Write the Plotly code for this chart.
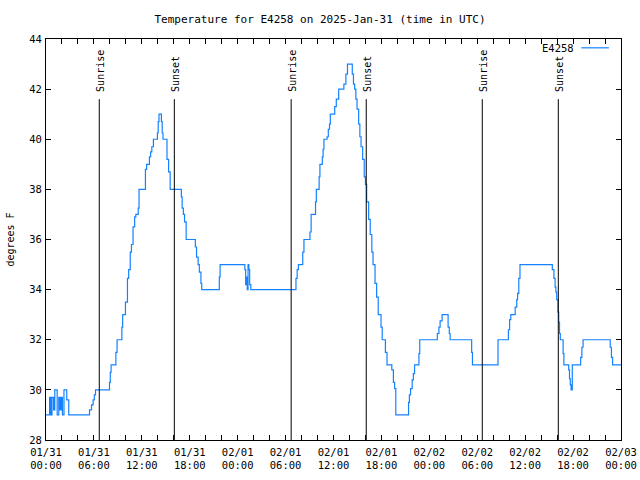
import pandas as pd
import plotly.graph_objects as go

# ---- data (hours after 2025-01-31 00:00 UTC, value becomes temp at that time) ----
temp_hours = [
    0.0, 0.45, 0.6, 0.75, 0.95, 1.1, 1.4, 1.6, 1.75, 1.9, 2.05, 2.25, 2.6, 2.85,
    5.45, 5.7, 5.9, 6.05, 6.2, 7.95, 8.05, 8.15, 8.75, 8.9, 9.5, 9.6, 9.95, 10.2,
    10.35, 10.55, 10.7, 10.9, 11.1, 11.25, 11.55, 11.65, 12.45, 12.6, 12.95, 13.1,
    13.25, 13.45, 13.95, 14.05, 14.15, 14.45, 14.55, 14.65, 15.15, 15.35, 15.55,
    16.95, 17.05, 17.2, 17.35, 17.55, 18.7, 18.85, 19.05, 19.2, 19.4, 19.5, 21.7,
    21.8, 24.9, 25.0, 25.1, 25.2, 25.3, 25.4, 25.5, 25.65, 31.3, 31.45, 31.6,
    32.15, 32.3, 33.05, 33.2, 33.75, 33.85, 34.2, 34.3, 34.6, 34.7, 34.8, 35.2,
    35.35, 35.5, 35.6, 36.15, 36.35, 36.65, 37.3, 37.55, 37.75, 38.35, 38.5,
    38.65, 38.8, 38.95, 39.15, 39.3, 39.45, 39.65, 39.85, 40.0, 40.15, 40.4, 40.6,
    40.8, 40.95, 41.2, 41.4, 41.6, 41.95, 42.1, 42.5, 42.7, 43.3, 43.5, 43.65,
    43.8, 45.4, 45.5, 45.65, 45.85, 46.0, 46.15, 46.7, 46.8, 49.0, 49.2, 49.35,
    49.6, 50.35, 50.5, 50.6, 53.3, 53.4, 56.6, 57.9, 58.05, 58.2, 58.75, 58.95,
    59.05, 59.2, 59.35, 63.4, 63.6, 63.75, 63.85, 63.95, 64.1, 64.2, 64.3, 64.4,
    64.75, 64.85, 65.45, 65.55, 65.65, 65.75, 65.9, 66.95, 67.1, 67.25, 70.65,
    70.8, 70.95, 72.0,
]
temp_values = [
    29, 29.7, 29, 29.7, 29.2, 30, 29, 29.7, 29.2, 29.7, 29, 30, 29.6, 29,
    29.2, 29.4, 29.6, 29.8, 30, 30.3, 30.7, 31, 31.5, 32, 32.5, 33, 33.5, 34.45,
    34.8, 35.5, 35.8, 36.5, 36.9, 37.0, 37.25, 38.0, 38.8, 39.0, 39.3, 39.5,
    39.7, 40.0, 40.25, 40.7, 41.0, 40.7, 40.25, 40.0, 39.2, 38.7, 38.0,
    37.7, 37.25, 37.0, 36.7, 36.0, 35.7, 35.3, 35.0, 34.7, 34.25, 34.0, 34.5,
    35.0, 34.8, 34.2, 34.5, 34.0, 35.0, 34.8, 34.2, 34.0, 34.45, 34.8, 35.0,
    35.5, 36.0, 36.3, 37.0, 37.5, 38.0, 38.5, 39.0, 39.3, 39.6, 40.0, 40.1,
    40.4, 40.6, 41.0, 41.3, 41.6, 42.0, 42.2, 42.6, 43.0, 42.6, 42.2,
    42.0, 41.6, 41.2, 40.6, 40.1, 39.7, 39.2, 38.5, 38.2, 37.5, 36.8, 36.2,
    35.5, 35.0, 34.25, 33.7, 33.0, 32.5, 32.0, 31.5, 31.0, 30.8, 30.3, 30.05,
    29.0, 29.5, 29.8, 30.05, 30.4, 30.65, 31.0, 31.45, 32.0, 32.25, 32.5, 32.75,
    33.0, 32.5, 32.25, 32.0, 31.5, 31.0, 32.0, 32.4, 32.8, 33.0, 33.3, 33.6,
    33.85, 34.45, 35.0, 34.8, 34.45, 34.1, 33.9, 33.6, 33.1, 32.7, 32.25, 32.0,
    31.45, 31.0, 30.8, 30.45, 30.2, 30.0, 31.0, 31.3, 31.7, 32.0, 31.7,
    31.3, 31.0, 31.0,
]

sunrise_hours = [6.67, 30.7, 54.63]
sunset_hours = [16.07, 40.1, 64.15]

tick_hours = list(range(0, 73, 2))
label_every = 6
tick_dates = ["01/31", "01/31", "01/31", "01/31", "02/01", "02/01", "02/01",
              "02/01", "02/02", "02/02", "02/02", "02/02", "02/03"]
tick_times = ["00:00", "06:00", "12:00", "18:00"] * 3 + ["00:00"]

series_name = "E4258"
title_text = "Temperature for E4258 on 2025-Jan-31 (time in UTC)"
y_title = "degrees F"

# ---- build ----
base = pd.Timestamp("2025-01-31 00:00:00")
to_dt = lambda hs: [base + pd.Timedelta(hours=h) for h in hs]

FONT = "DejaVu Sans Mono"
BLUE = "rgb(20,130,255)"
TXT = 10.5

fig = go.Figure()
fig.add_trace(go.Scatter(
    x=to_dt(temp_hours), y=temp_values, mode="lines", line_shape="hv",
    line=dict(color=BLUE, width=1.2), name=series_name, showlegend=False,
))

ticktext = []
j = 0
for h in tick_hours:
    if h % label_every == 0:
        ticktext.append(f"{tick_dates[j]}<br>{tick_times[j]}")
        j += 1
    else:
        ticktext.append("")

shapes = []
annotations = []
sun_top = 41.6
for hs, lab in ((sunrise_hours, "Sunrise"), (sunset_hours, "Sunset")):
    for dt in to_dt(hs):
        shapes.append(dict(type="line", xref="x", yref="y", x0=dt, x1=dt,
                           y0=28, y1=sun_top, line=dict(color="black", width=1)))
        annotations.append(dict(x=dt, y=sun_top + 0.22, xref="x", yref="y",
                                text=lab, textangle=-90, showarrow=False,
                                xanchor="center", yanchor="bottom", xshift=1,
                                font=dict(family=FONT, size=10, color="black")))

# legend key (gnuplot style: text then line sample)
annotations.append(dict(x=0.922, y=0.978, xref="paper", yref="paper",
                        text=series_name, showarrow=False, xanchor="right",
                        yanchor="middle",
                        font=dict(family=FONT, size=TXT, color="black")))
shapes.append(dict(type="line", xref="paper", yref="paper", x0=0.931, x1=0.979,
                   y0=0.978, y1=0.978, line=dict(color=BLUE, width=1.2)))

axis_common = dict(showline=True, linecolor="black", linewidth=1, mirror="allticks",
                   ticks="inside", ticklen=5, tickcolor="black", showgrid=False,
                   zeroline=False, automargin=False,
                   tickfont=dict(family=FONT, size=TXT, color="black"))

fig.update_layout(
    width=640, height=480,
    margin=dict(l=46, r=19, t=39, b=40),
    paper_bgcolor="white", plot_bgcolor="white",
    title=dict(text=title_text, x=0.5, xanchor="center", y=1 - 19 / 480,
               yanchor="middle", yref="container",
               font=dict(family=FONT, size=11, color="black")),
    xaxis=dict(range=[base, base + pd.Timedelta(hours=72)], tickvals=to_dt(tick_hours),
               ticktext=ticktext, ticklabelstandoff=2, **axis_common),
    yaxis=dict(range=[28, 44], dtick=2, tick0=28, ticklabelstandoff=1,
               title=dict(text=y_title, standoff=12,
                          font=dict(family=FONT, size=10, color="black")),
               **axis_common),
    shapes=shapes, annotations=annotations,
)

fig.write_html("out.html", config={"displayModeBar": False},
               post_script="document.body.style.margin='0';document.body.style.overflow='hidden';")
